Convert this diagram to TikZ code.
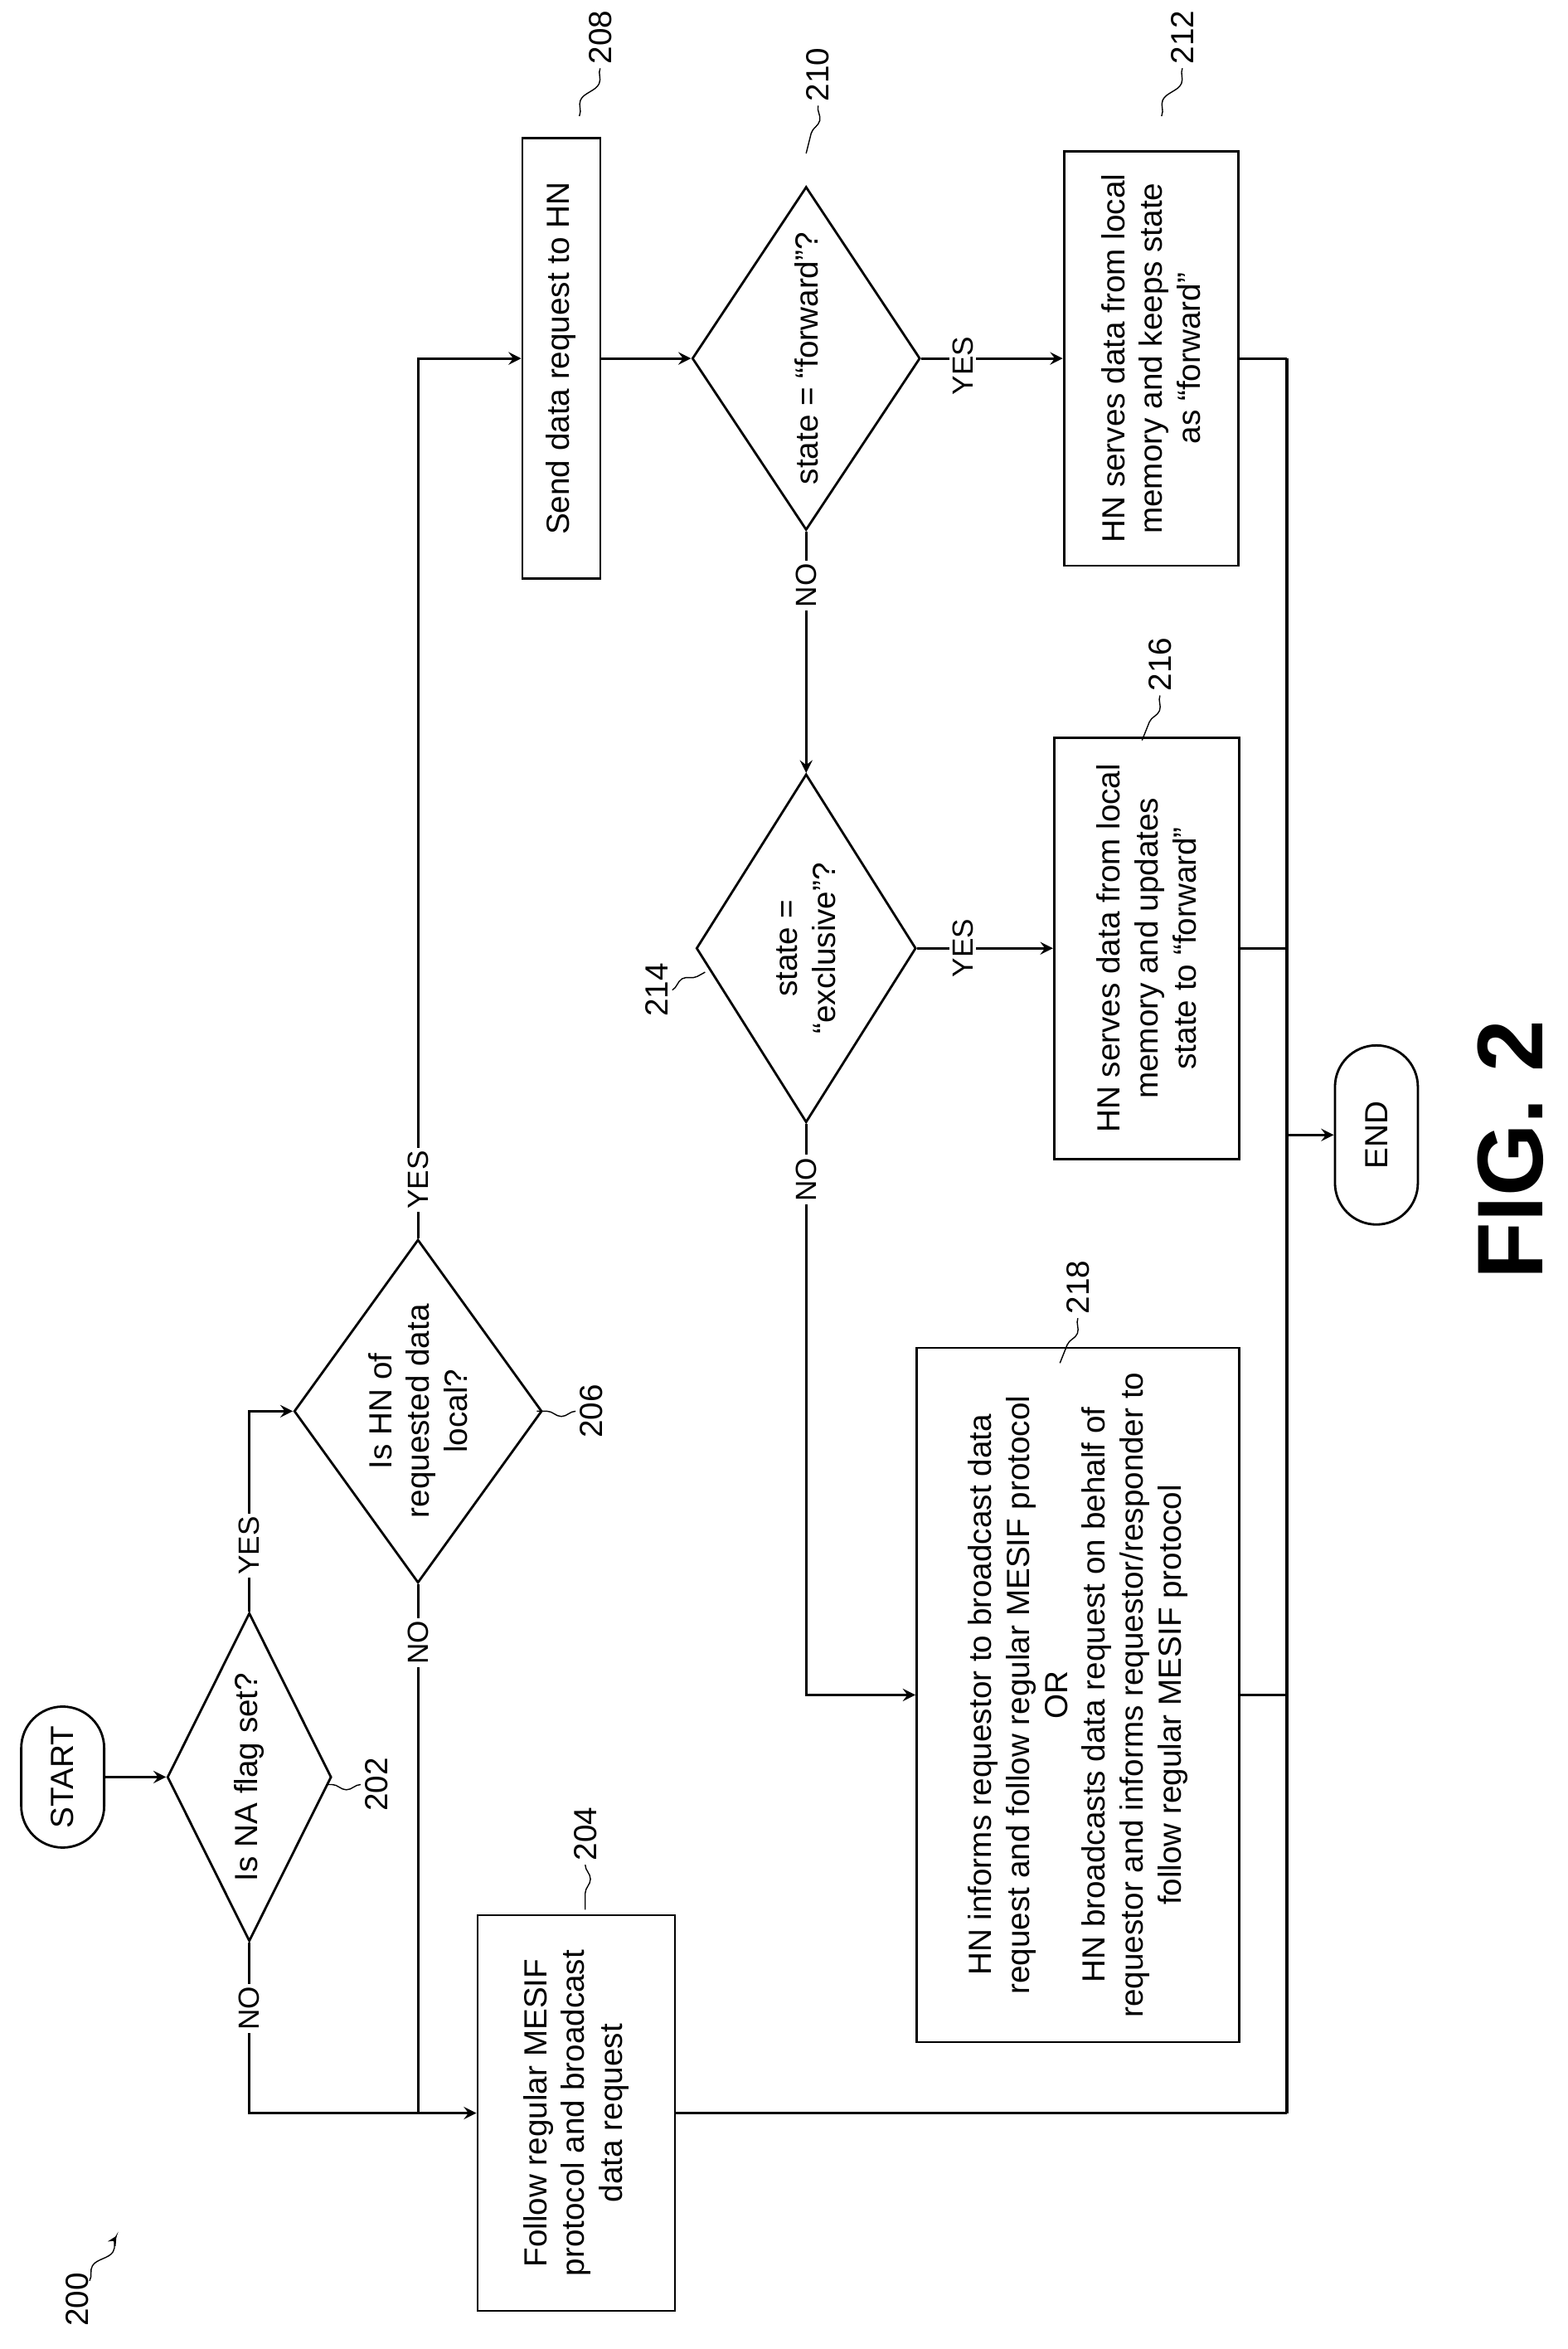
\documentclass[tikz,border=0pt]{standalone}
\usepackage{fontspec}
\setmainfont{Liberation Sans}
\usetikzlibrary{shapes.geometric, arrows}
\usetikzlibrary{decorations.pathmorphing}
\tikzset{
every picture/.style={line width=0.9pt, >=stealth, x=0.018cm, y=-0.018cm},
%%%%%%%%%%  Node styles
block/.style={rectangle, draw, thick, rotate=90, align=center, inner sep=2pt,
              font=\fontsize{11}{13}\selectfont},
decision/.style={diamond, draw, thick, rotate=90, align=center, inner sep=-7pt,
              font=\fontsize{11}{13}\selectfont},
terminal/.style={rectangle, rounded corners=0.5cm, draw, thick, rotate=90,
              minimum width=1.7cm, minimum height=1cm,
              font=\fontsize{11}{13}\selectfont},
yn/.style={fill=white, rotate=90, inner sep=1pt,
              font=\fontsize{10}{12}\selectfont},
reflab/.style={rotate=90, inner sep=1pt, font=\fontsize{11}{13}\selectfont},
%%%% squiggly leader to a reference numeral
squig/.style={thin, decorate, decoration={snake, segment length=0.55cm, amplitude=1.8pt}}
}
\begin{document}
\begin{tikzpicture}
\useasboundingbox (0,0) rectangle (1050,1573);
%% terminals and boxes
\node[terminal] (start) at (42,1190) {START};
\node[decision, minimum width=3.96cm, minimum height=1.98cm] (d202) at (167,1190) {Is NA flag set?};
\node[block, minimum width=4.77cm, minimum height=2.38cm] (b204) at (386,1415)
	{Follow regular MESIF\\protocol and broadcast\\data request};
\node[decision, minimum width=4.14cm, minimum height=2.99cm] (d206) at (280,945)
	{Is HN of\\requested data\\local?};
\node[block, minimum width=5.31cm, minimum height=0.94cm] (b208) at (376,240) {Send data request to HN};
\node[decision, minimum width=4.14cm, minimum height=2.75cm] (d210) at (540,240) {state = “forward”?};
\node[block, minimum width=5cm, minimum height=2.1cm] (b212) at (771,240)
	{HN serves data from local\\memory and keeps state\\as “forward”};
\node[decision, minimum width=4.2cm, minimum height=2.65cm] (d214) at (540,635) {state =\\“exclusive”?};
\node[block, minimum width=5.08cm, minimum height=2.23cm] (b216) at (768,635)
	{HN serves data from local\\memory and updates\\state to “forward”};
\node[block, minimum width=8.37cm, minimum height=3.89cm] (b218) at (722,1135)
	{HN informs requestor to broadcast data\\request and follow regular MESIF protocol\\OR\\
	HN broadcasts data request on behalf of\\requestor and informs requestor/responder to\\follow regular MESIF protocol};
\node[terminal, minimum width=2.16cm] (end) at (922,760) {END};
\node[rotate=90, font=\bfseries\fontsize{32}{36}\selectfont] (fig) at (1012,770) {FIG. 2};
%% junction points on the return line
\coordinate (j212) at (862,240);
\coordinate (j216) at (862,635);
\coordinate (j218) at (862,1135);
\coordinate (j204) at (862,1415);
\coordinate (jend) at (862,760);
%% connectors
\draw[->] (start) -- (d202);
\draw[->] (d202.west) |- (b204.north);
\draw[->] (d202.east) |- (d206.north);
\draw (d206.west) -- (d206.west |- b204.north);
\draw[->] (d206.east) |- (b208.north);
\draw[->] (b208.south) -- (d210.north);
\draw[->] (d210.south) -- (b212.north);
\draw[->] (d210.west) -- (d214.east);
\draw[->] (d214.south) -- (b216.north);
\draw[->] (d214.west) |- (b218.north);
\draw (b212.south) -- (j212);
\draw (b216.south) -- (j216);
\draw (b218.south) -- (j218);
\draw (b204.south) -- (j204);
\draw (j212) -- (j204);
\draw[->] (jend) -- (end.north);
%% YES / NO
\node[yn] at (167,1345) {NO};
\node[yn] at (167,1035) {YES};
\node[yn] at (280,1100) {NO};
\node[yn] at (280,790) {YES};
\node[yn] at (645,245) {YES};
\node[yn] at (540,392) {NO};
\node[yn] at (645,635) {YES};
\node[yn] at (540,790) {NO};
%% reference numerals
\node[reflab] (l202) at (252,1195) {202};
\draw[squig] (l202.north) -- ++(-22,0);
\node[reflab] (l204) at (392,1228) {204};
\draw[squig] (l204.west) -- ++(0,30);
\node[reflab] (l206) at (396,945) {206};
\draw[squig] (l206.north) -- ++(-26,0);
\node[reflab] (l208) at (402,25) {208};
\draw[squig] (l208.west) -- ++(-14,32);
\node[reflab] (l210) at (548,50) {210};
\draw[squig] (l210.west) -- ++(-8,32);
\node[reflab] (l212) at (792,25) {212};
\draw[squig] (l212.west) -- ++(-14,32);
\node[reflab] (l214) at (440,663) {214};
\draw[squig] (l214.south) -- ++(22,-12);
\node[reflab] (l216) at (777,445) {216};
\draw[squig] (l216.west) -- ++(-12,30);
\node[reflab] (l218) at (722,862) {218};
\draw[squig] (l218.west) -- ++(-12,30);
\node[reflab] (l200) at (52,1540) {200};
\draw[squig, ->] (l200.east) ++(8,8) -- ++(18,-30);
\end{tikzpicture}
\end{document}
